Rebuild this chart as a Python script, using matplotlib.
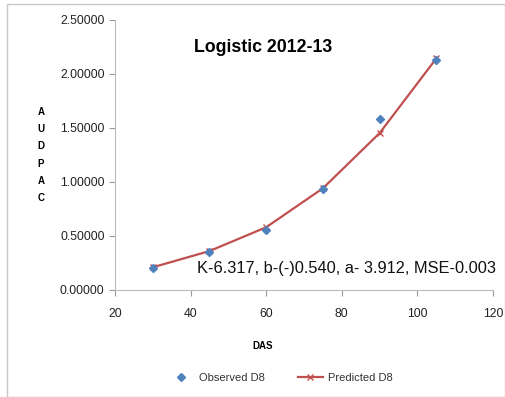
import matplotlib
matplotlib.use("Agg")
import matplotlib.pyplot as plt
from matplotlib.patches import Rectangle

das = [30, 45, 60, 75, 90, 105]
observed = [0.20, 0.35, 0.55, 0.93, 1.58, 2.13]
predicted = [0.21, 0.36, 0.58, 0.94, 1.45, 2.14]
x_ticks = [20, 40, 60, 80, 100, 120]
y_ticks = [0.0, 0.5, 1.0, 1.5, 2.0, 2.5]

plt.rcParams["font.family"] = ["Liberation Sans", "DejaVu Sans"]

fig = plt.figure(figsize=(5.06, 3.97), dpi=100)
fig.patches.append(Rectangle((0.014, 0.0), 0.984, 0.99, transform=fig.transFigure,
                             fill=False, edgecolor="#c8c8c8", linewidth=1))
ax = fig.add_axes([115 / 506, 1 - 290 / 397, (493 - 115) / 506, (290 - 19.5) / 397])

ax.plot(das, predicted, color="#c0504d", linewidth=1.6, marker="x", markersize=4,
        markeredgewidth=1, label="Predicted D8", zorder=2)
ax.plot(das, observed, linestyle="none", marker="D", markersize=3.8, color="#4f81bd",
        label="Observed D8", zorder=3)

ax.set_xlim(20, 120)
ax.set_ylim(0, 2.5)
ax.set_xticks(x_ticks)
ax.set_yticks(y_ticks)
ax.set_yticklabels([f"{v:.5f}" for v in y_ticks])
ax.tick_params(labelsize=8.8, colors="#999999", labelcolor="#222222", length=4, width=0.8)
ax.tick_params(axis="x", direction="out", pad=9)
for side in ["top", "right"]:
    ax.spines[side].set_visible(False)
for side in ["left", "bottom"]:
    ax.spines[side].set_color("#bbbbbb")

ax.text((263 - 115) / 378, (290 - 47) / 270.5, "Logistic 2012-13", transform=ax.transAxes,
        ha="center", va="center", fontsize=12.8, fontweight="bold")
ax.text(496 / 506, 1 - 268 / 397, "K-6.317, b-(-)0.540, a- 3.912, MSE-0.003",
        transform=fig.transFigure, ha="right", va="center", fontsize=11.8, color="#111111")

fig.text(41 / 506, 1 - 155 / 397, "A\nU\nD\nP\nA\nC", ha="center", va="center",
         fontsize=7, fontweight="bold", linespacing=1.9)
fig.text(263 / 506, 1 - 346 / 397, "DAS", ha="center", va="center",
         fontsize=7, fontweight="bold")

handles, labels = ax.get_legend_handles_labels()
fig.legend(handles[::-1], labels[::-1], loc="center", bbox_to_anchor=(281 / 506, 1 - 378 / 397),
           ncol=2, frameon=False, fontsize=8, columnspacing=3.0, handlelength=2.2,
           handletextpad=0.5, labelcolor="#333333")

plt.savefig("out.png", dpi=100)
